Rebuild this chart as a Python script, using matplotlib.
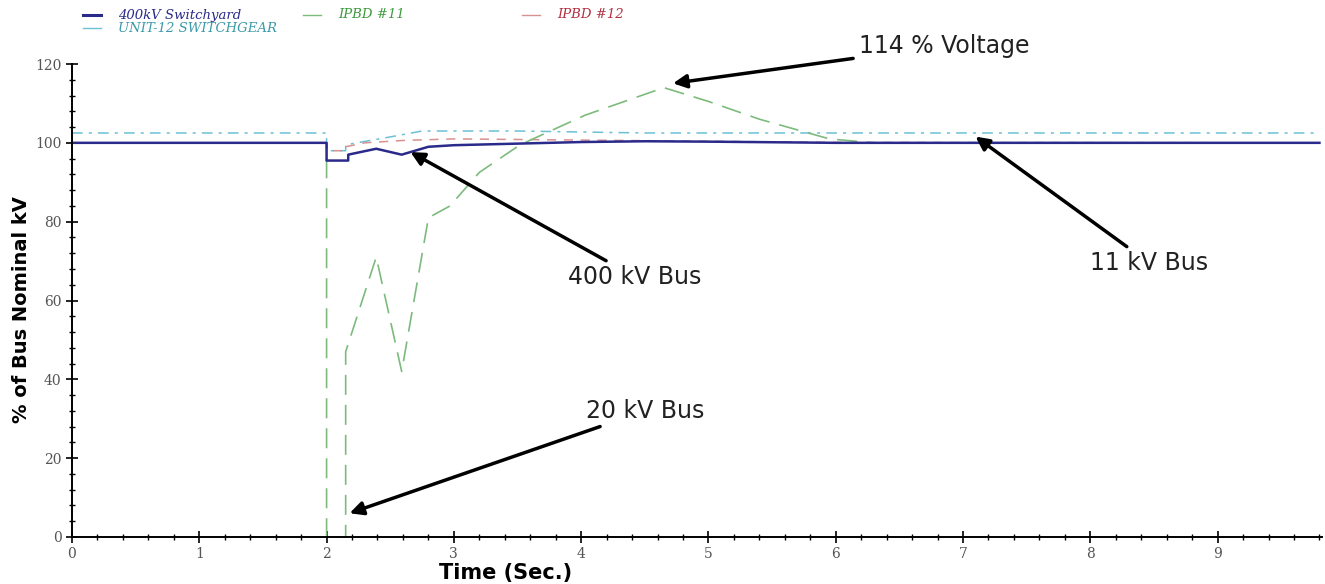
import matplotlib
matplotlib.use("Agg")
import matplotlib.pyplot as plt
from matplotlib.lines import Line2D
from matplotlib.ticker import MultipleLocator

# 400kV Switchyard bus voltage (% of nominal)
t_sw = [0, 2.0, 2.0, 2.17, 2.17, 2.39, 2.59, 2.8, 3.0, 3.5, 4.0, 4.5, 5.0, 6.0, 9.8]
v_sw = [100, 100, 95.5, 95.5, 97, 98.5, 97, 99, 99.4, 99.8, 100.2, 100.4, 100.3, 100, 100]

# IPBD #11 (20 kV bus)
t_11 = [0, 2.0, 2.0, 2.15, 2.15, 2.39, 2.59, 2.8, 2.97, 3.2, 3.52, 4.03, 4.65, 5.0, 5.4, 5.95, 6.3, 9.8]
v_11 = [100, 100, 0, 0, 47, 71, 42, 81, 84, 92.5, 99.5, 107, 114, 110.5, 106, 101, 100, 100]

# IPBD #12
t_12 = [0, 2.0, 2.0, 2.15, 2.15, 2.3, 2.6, 3.0, 4.0, 5.0, 6.0, 9.8]
v_12 = [100, 100, 98, 98, 99, 100, 100.6, 101, 100.7, 100.4, 100.1, 100]

# UNIT-12 SWITCHGEAR (11 kV bus)
t_u12 = [0, 2.0, 2.0, 2.15, 2.15, 2.5, 2.75, 3.5, 4.5, 9.8]
v_u12 = [102.5, 102.5, 98, 98, 99.5, 101.5, 103, 103, 102.5, 102.5]

labels = ["400kV Switchyard", "IPBD #11", "IPBD #12", "UNIT-12 SWITCHGEAR"]

c_sw = "#2a2a8a"
c_11 = "#7dbb7d"
c_12 = "#d99090"
c_u12 = "#6cc0d4"

fig = plt.figure(figsize=(13.25, 5.84), dpi=100)
W, H = 1325, 584
ax = fig.add_axes([72 / W, (H - 537) / H, 1250 / W, 473 / H])

ax.plot(t_u12, v_u12, color=c_u12, lw=1.1, ls=(0, (7, 4, 2, 4)))
ax.plot(t_12, v_12, color=c_12, lw=1.1, ls=(0, (6, 5)))
ax.plot(t_11, v_11, color=c_11, lw=1.2, ls=(0, (12, 6)))
ax.plot(t_sw, v_sw, color=c_sw, lw=1.8)

ax.set_xlim(0, 9.82)
ax.set_ylim(0, 120)
ax.xaxis.set_major_locator(MultipleLocator(1))
ax.xaxis.set_minor_locator(MultipleLocator(0.2))
ax.yaxis.set_major_locator(MultipleLocator(20))
ax.yaxis.set_minor_locator(MultipleLocator(4))
for s in ["top", "right"]:
    ax.spines[s].set_visible(False)
for s in ["left", "bottom"]:
    ax.spines[s].set_linewidth(1.4)
ax.tick_params(which="major", direction="inout", length=8, width=1.2,
               labelsize=10, labelcolor="#555555")
ax.tick_params(which="minor", direction="inout", length=5, width=1.0)
for lab in ax.get_xticklabels() + ax.get_yticklabels():
    lab.set_fontfamily("DejaVu Serif")

ax.set_xlabel("Time (Sec.)", fontsize=15, fontweight="bold", family="DejaVu Sans")
ax.xaxis.set_label_coords(0.347, -0.055)
ax.set_ylabel("% of Bus Nominal kV", fontsize=14, fontweight="bold", family="DejaVu Sans")
ax.yaxis.set_label_coords(-0.033, 0.48)

# legend drawn by hand to keep the overlapping layout of the original
leg = [(83, 15, c_sw, 2.2, labels[0], "#2a2a8a"),
       (303, 15, c_11, 1.0, labels[1], "#3c9a3c"),
       (522, 15, c_12, 1.0, labels[2], "#b03040"),
       (83, 28, c_u12, 1.0, labels[3], "#3a9aa8")]
for x0, y0, col, lw, txt, tcol in leg:
    fig.add_artist(Line2D([x0 / W, (x0 + 18) / W], [1 - y0 / H, 1 - y0 / H],
                          color=col, lw=lw))
    fig.text((x0 + 35) / W, 1 - y0 / H, txt, color=tcol, fontsize=9.5,
             style="italic", family="DejaVu Serif", va="center")

arrow = dict(arrowstyle="-|>", color="black", lw=2.5, mutation_scale=20)
afont = dict(fontsize=17, family="DejaVu Sans", color="#222222")
ax.annotate("114 % Voltage", xy=(4.7, 115), xytext=(6.18, 124.6),
            arrowprops=arrow, va="center", ha="left", annotation_clip=False, **afont)
ax.annotate("400 kV Bus", xy=(2.64, 98), xytext=(3.9, 66),
            arrowprops=arrow, va="center", ha="left", **afont)
ax.annotate("11 kV Bus", xy=(7.08, 102), xytext=(8.0, 69.5),
            arrowprops=arrow, va="center", ha="left", **afont)
ax.annotate("20 kV Bus", xy=(2.16, 5.8), xytext=(4.04, 32),
            arrowprops=arrow, va="center", ha="left", **afont)

fig.savefig("out.png", dpi=100)
